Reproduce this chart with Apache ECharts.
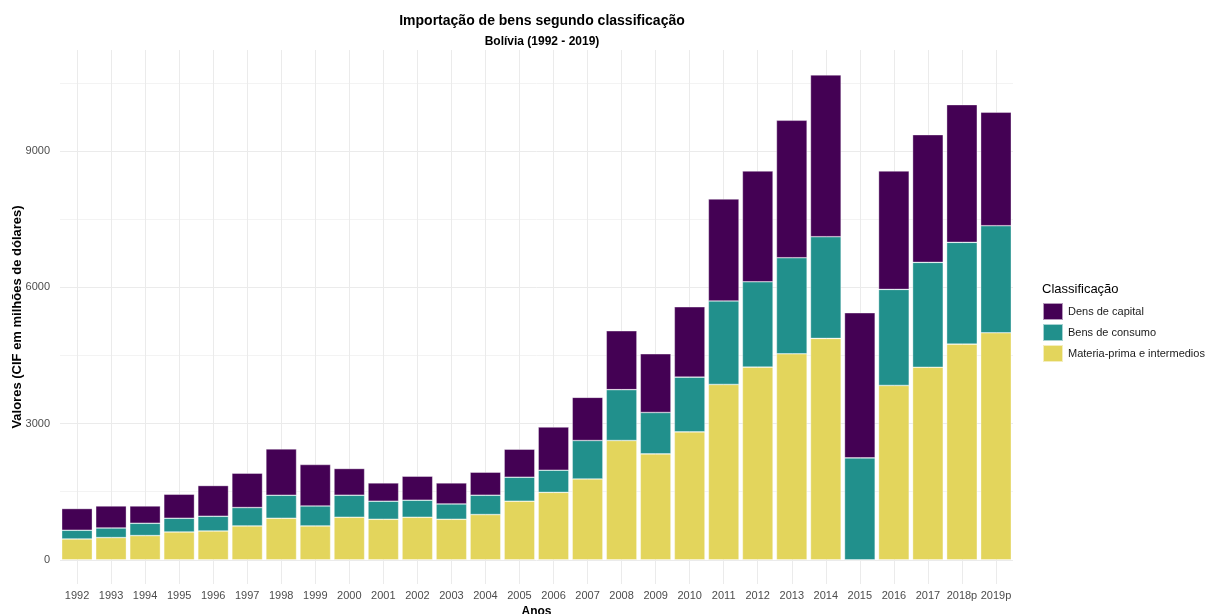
<!DOCTYPE html>
<html>
<head>
<meta charset="utf-8">
<script src="https://cdn.jsdelivr.net/npm/echarts@6/dist/echarts.min.js"></script>
<style>
  html,body{margin:0;padding:0;background:#fff;}
  #chart{width:1209px;height:614px;}
</style>
</head>
<body>
<div id="chart"></div>
<script>
(function(){
  const FONT = '"Liberation Sans", Arial, sans-serif';

  // anos (eixo x)
  const anos = ['1992','1993','1994','1995','1996','1997','1998','1999','2000','2001',
    '2002','2003','2004','2005','2006','2007','2008','2009','2010','2011',
    '2012','2013','2014','2015','2016','2017','2018p','2019p'];

  // valores (milhões de US$)
  const materiaPrima = [458,489,533,612,634,745,914,745,936,892,
    936,892,996,1289,1484,1780,2626,2331,2816,3860,
    4241,4534,4873,0,3838,4238,4747,4997];
  const bensConsumo = [192,211,271,302,324,405,507,440,485,397,
    375,337,425,528,488,846,1119,912,1204,1838,
    1879,2115,2239,2243,2114,2309,2241,2357];
  const bensCapital = [478,485,381,529,676,756,1020,912,588,403,
    529,463,507,617,950,950,1296,1291,1549,2244,
    2439,3026,3562,3195,2607,2811,3031,2498];

  const yTicks = [0,1500,3000,4500,6000,7500,9000,10500];
  const yLabels = [0,3000,6000,9000];

  const nomes = ['Dens de capital','Bens de consumo','Materia-prima e intermedios'];
  const cores = {capital:'#440154', consumo:'#21908C', materia:'#E3D55C'};

  const chart = echarts.init(document.getElementById('chart'));

  const barBase = {type:'bar', stack:'total', barCategoryGap:'10%',
    itemStyle:{borderColor:'rgba(255,255,255,0.6)', borderWidth:0.6}};

  chart.setOption({
    animation:false,
    textStyle:{fontFamily:FONT},
    title:[
      {text:'Importação de bens segundo classificação', left:537, top:9, textAlign:'center',
        textStyle:{fontFamily:FONT,fontSize:14,fontWeight:'bold',color:'#000'}},
      {text:'Bolívia (1992 - 2019)', left:537, top:31, textAlign:'center',
        textStyle:{fontFamily:FONT,fontSize:12,fontWeight:'bold',color:'#000'}},
      {text:'Classificação', left:1037, top:278,
        textStyle:{fontFamily:FONT,fontSize:13,fontWeight:'normal',color:'#000'}}
    ],
    // título do eixo y (rotacionado)
    graphic:[{
      type:'text', x:17, y:317, rotation:Math.PI/2,
      style:{text:'Valores (CIF em milhões de dólares)', fontFamily:FONT, fontSize:13,
        fontWeight:'bold', fill:'#000', align:'center', verticalAlign:'middle'}
    }],
    legend:{
      orient:'vertical', left:1037, top:297, itemWidth:20, itemHeight:17, itemGap:2,
      icon:'rect', data:nomes,
      textStyle:{fontFamily:FONT,fontSize:11,color:'#1a1a1a'}
    },
    grid:{left:60, right:196, top:50, height:534, outerBoundsMode:'none', containLabel:false},
    xAxis:{
      type:'category', data:anos,
      name:'Anos', nameLocation:'middle', nameGap:19,
      nameTextStyle:{fontFamily:FONT,fontSize:12,fontWeight:'bold',color:'#000'},
      axisLine:{show:false}, axisTick:{show:false},
      axisLabel:{color:'#4d4d4d',fontSize:11,margin:6,interval:0},
      splitLine:{show:true, alignWithLabel:true, lineStyle:{color:'#ebebeb',width:1}}
    },
    yAxis:{
      type:'value', min:-533, max:11222,
      axisLine:{show:false},
      axisTick:{show:false, customValues:yTicks},
      axisLabel:{color:'#4d4d4d',fontSize:11,margin:10, customValues:yLabels, formatter:v=>String(v)},
      splitLine:{show:true, lineStyle:{color:['#ebebeb','#f3f3f3'],width:1}}
    },
    series:[
      Object.assign({}, barBase, {name:nomes[2], data:materiaPrima, itemStyle:Object.assign({}, barBase.itemStyle, {color:cores.materia})}),
      Object.assign({}, barBase, {name:nomes[1], data:bensConsumo, itemStyle:Object.assign({}, barBase.itemStyle, {color:cores.consumo})}),
      Object.assign({}, barBase, {name:nomes[0], data:bensCapital, itemStyle:Object.assign({}, barBase.itemStyle, {color:cores.capital})})
    ]
  });
})();
</script>
</body>
</html>
